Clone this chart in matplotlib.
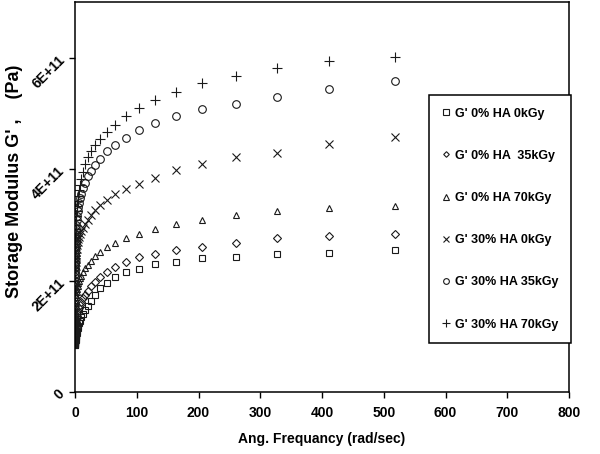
import matplotlib
matplotlib.use("Agg")
import matplotlib.pyplot as plt

plt.rcParams['font.family'] = ['Liberation Sans', 'DejaVu Sans']
plt.rcParams['font.weight'] = 'bold'

# angular frequency (rad/sec)
freq = [518, 412, 327, 260, 206, 164, 130, 103, 82, 65,
        52, 41, 32.7, 26, 20.6, 16.4, 13, 10.3, 8.2, 6.5,
        5.2, 4.1, 3.27, 2.6, 2.06, 1.64, 1.3, 1.03, 0.82, 0.65,
        0.52, 0.41, 0.327, 0.26, 0.206, 0.164, 0.13, 0.103]

# storage modulus, in units of 1E+11 Pa
g_0ha_0 = [2.54, 2.50, 2.47, 2.43, 2.40, 2.34, 2.29, 2.21, 2.15, 2.06,
           1.96, 1.86, 1.74, 1.64, 1.55, 1.47, 1.40, 1.34, 1.28, 1.23,
           1.18, 1.14, 1.10, 1.06, 1.03, 1.00, 0.98, 0.96, 0.94, 0.92,
           0.91, 0.90, 0.89, 0.88, 0.87, 0.86, 0.85, 0.84]
g_0ha_35 = [2.83, 2.80, 2.76, 2.67, 2.61, 2.54, 2.48, 2.42, 2.33, 2.24,
            2.16, 2.07, 1.98, 1.90, 1.82, 1.75, 1.68, 1.62, 1.56, 1.50,
            1.45, 1.41, 1.37, 1.33, 1.29, 1.26, 1.23, 1.20, 1.17, 1.14,
            1.12, 1.10, 1.08, 1.06, 1.04, 1.02, 1.00, 0.98]
g_0ha_70 = [3.34, 3.31, 3.25, 3.17, 3.09, 3.01, 2.92, 2.83, 2.77, 2.68,
            2.61, 2.52, 2.44, 2.36, 2.28, 2.22, 2.15, 2.09, 2.04, 2.00,
            1.95, 1.90, 1.85, 1.80, 1.75, 1.70, 1.65, 1.60, 1.55, 1.50,
            1.45, 1.41, 1.37, 1.33, 1.29, 1.25, 1.22, 1.19]
g_30ha_0 = [4.57, 4.45, 4.29, 4.21, 4.10, 3.98, 3.85, 3.74, 3.64, 3.55,
            3.45, 3.35, 3.26, 3.17, 3.09, 3.02, 2.95, 2.89, 2.84, 2.79,
            2.74, 2.69, 2.63, 2.57, 2.51, 2.45, 2.39, 2.33, 2.27, 2.21,
            2.15, 2.09, 2.03, 1.97, 1.91, 1.86, 1.81, 1.76]
g_30ha_35 = [5.58, 5.44, 5.30, 5.17, 5.08, 4.95, 4.83, 4.71, 4.56, 4.44,
             4.32, 4.19, 4.07, 3.97, 3.87, 3.76, 3.66, 3.56, 3.48, 3.40,
             3.32, 3.24, 3.16, 3.08, 3.00, 2.92, 2.84, 2.76, 2.68, 2.61,
             2.54, 2.47, 2.40, 2.34, 2.28, 2.22, 2.17, 2.12]
g_30ha_70 = [6.02, 5.94, 5.81, 5.68, 5.55, 5.39, 5.24, 5.09, 4.95, 4.80,
             4.66, 4.55, 4.44, 4.33, 4.21, 4.09, 3.95, 3.83, 3.72, 3.62,
             3.52, 3.42, 3.33, 3.24, 3.16, 3.08, 3.00, 2.93, 2.86, 2.79,
             2.72, 2.66, 2.60, 2.54, 2.49, 2.44, 2.40, 2.36]

series_labels = ["G' 0% HA 0kGy", "G' 0% HA  35kGy", "G' 0% HA 70kGy",
                 "G' 30% HA 0kGy", "G' 30% HA 35kGy", "G' 30% HA 70kGy"]
series_values = [g_0ha_0, g_0ha_35, g_0ha_70, g_30ha_0, g_30ha_35, g_30ha_70]
markers = ['s', 'D', '^', 'x', 'o', '+']
msizes = [5.0, 3.8, 5.0, 6.0, 5.5, 7.0]

xticks = [0, 100, 200, 300, 400, 500, 600, 700, 800]
yticks = [0, 2e11, 4e11, 6e11]
ytick_labels = ['0', '2E+11', '4E+11', '6E+11']

fig = plt.figure(figsize=(6.0, 4.54), dpi=100)
ax = fig.add_axes([75/600, 1 - 392/454, 494/600, 390/454])

for vals, lab, mk, ms in zip(series_values, series_labels, markers, msizes):
    ax.plot(freq, [v * 1e11 for v in vals], linestyle='none', marker=mk,
            markersize=ms, markerfacecolor='none', markeredgecolor='#1a1a1a',
            markeredgewidth=0.8, label=lab)

ax.set_xlim(0, 800)
ax.set_ylim(0, 7e11)
ax.set_xticks(xticks)
ax.set_xticklabels([str(t) for t in xticks], fontsize=10, fontweight='bold')
ax.set_yticks(yticks)
ax.set_yticklabels(ytick_labels, fontsize=10, fontweight='bold',
                   rotation=45, rotation_mode='anchor', ha='right', va='center')
ax.tick_params(axis='both', direction='out', length=4, width=1.0, color='black')
ax.tick_params(axis='x', pad=6)
ax.tick_params(axis='y', pad=5)
for sp in ax.spines.values():
    sp.set_linewidth(1.1)
    sp.set_color('black')

ax.set_xlabel('Ang. Frequancy (rad/sec)', fontsize=10, fontweight='bold', labelpad=9)
ax.set_ylabel("Storage Modulus G' ,    (Pa)", fontsize=13, fontweight='bold')
ax.yaxis.set_label_coords(-0.105, 0.54)

leg = ax.legend(loc='upper right', bbox_to_anchor=(1.004, (392 - 95) / 390),
                bbox_transform=ax.transAxes, borderaxespad=0, frameon=True,
                fancybox=False, edgecolor='black', framealpha=1,
                prop={'family': 'Liberation Sans', 'weight': 'bold', 'size': 9},
                numpoints=1, markerscale=0.75, handlelength=0.8,
                handletextpad=0.3, borderpad=1.0, labelspacing=2.42)
leg.get_frame().set_linewidth(1.1)

fig.savefig('out.png', dpi=100)
